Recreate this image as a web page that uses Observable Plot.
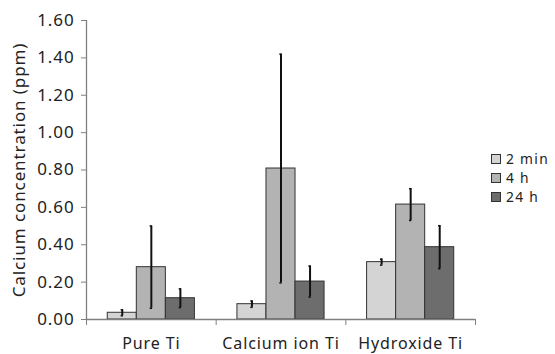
<!DOCTYPE html>
<html><head><meta charset="utf-8">
<script src="https://cdn.jsdelivr.net/npm/d3@7"></script>
<script src="https://cdn.jsdelivr.net/npm/@observablehq/plot@0.6"></script>
<style>
body{margin:0;background:#fff;font-family:"Noto Sans",sans-serif;}
#wrap{position:relative;width:555px;height:354px;}
#legend{position:absolute;left:491px;top:149px;font-size:13.8px;letter-spacing:1.3px;color:#222;line-height:19px;}
#legend div{display:flex;align-items:center;white-space:nowrap;height:19px;}
#legend span.sw{display:inline-block;width:8px;height:8px;border:1px solid #333;margin-right:5px;}
svg text{letter-spacing:0.9px;}
</style></head>
<body><div id="wrap"><div id="legend"></div></div>
<script>
const categories = ["Pure Ti", "Calcium ion Ti", "Hydroxide Ti"];
const seriesNames = ["2 min", "4 h", "24 h"];
const seriesColors = ["#d4d4d4", "#b3b3b3", "#6d6d6d"];
const val2min = [0.036, 0.082, 0.307];
const val4h   = [0.280, 0.808, 0.615];
const val24h  = [0.114, 0.203, 0.387];
const err2min = [0.016, 0.017, 0.016];
const err4h   = [0.220, 0.612, 0.085];
const err24h  = [0.050, 0.083, 0.115];
const yTicks = [0, 0.2, 0.4, 0.6, 0.8, 1.0, 1.2, 1.4, 1.6];

const vals = [val2min, val4h, val24h];
const errs = [err2min, err4h, err24h];
const groupStart = 0.164, barW = 0.224, capHalf = 0.009;
const rows = [];
categories.forEach((c, ci) => {
  seriesNames.forEach((s, si) => {
    const x1 = ci + groupStart + si * barW;
    rows.push({cat: c, series: s, x1, x2: x1 + barW, xm: x1 + barW / 2,
      v: vals[si][ci], lo: vals[si][ci] - errs[si][ci], hi: vals[si][ci] + errs[si][ci]});
  });
});

const chart = Plot.plot({
  width: 555, height: 354,
  marginLeft: 86, marginRight: 80, marginTop: 20, marginBottom: 35,
  style: {fontFamily: '"Noto Sans", sans-serif', fontSize: "16px", color: "#222", background: "transparent"},
  x: {type: "linear", domain: [0, 3]},
  y: {domain: [0, 1.6]},
  color: {domain: seriesNames, range: seriesColors},
  marks: [
    Plot.rectY(rows, {x1: "x1", x2: "x2", y1: 0, y2: "v", fill: "series", stroke: "#333", strokeWidth: 1, inset: 0}),
    Plot.ruleX(rows, {x: "xm", y1: "lo", y2: "hi", stroke: "#111", strokeWidth: 2}),
    Plot.ruleY(rows, {x1: d => d.xm - capHalf, x2: d => d.xm + capHalf, y: "lo", stroke: "#111", strokeWidth: 1.5}),
    Plot.ruleY(rows, {x1: d => d.xm - capHalf, x2: d => d.xm + capHalf, y: "hi", stroke: "#111", strokeWidth: 1.5}),
    Plot.ruleY([0], {stroke: "#808080", strokeWidth: 1.3}),
    Plot.ruleX([0], {y1: 0, y2: 1.6, stroke: "#808080", strokeWidth: 1.3}),
    Plot.axisY({ticks: yTicks, tickFormat: d => d.toFixed(2), tickSize: 5, tickPadding: 7, stroke: "#808080", fontSize: 17,
      label: "Calcium concentration (ppm)", labelAnchor: "center", labelArrow: false, labelOffset: 74}),
    Plot.axisX({ticks: [0, 1, 2, 3], tickFormat: () => "", tickSize: 6, stroke: "#808080", label: null}),
    Plot.axisX({ticks: [0.5, 1.5, 2.5], tickFormat: d => categories[Math.floor(d)], tickSize: 0, tickPadding: 18, label: null})
  ]
});
document.getElementById("wrap").prepend(chart);
chart.style.position = "absolute"; chart.style.left = "0"; chart.style.top = "0";
const lg = document.getElementById("legend");
seriesNames.forEach((s, i) => {
  const d = document.createElement("div");
  d.innerHTML = `<span class="sw" style="background:${seriesColors[i]}"></span>${s}`;
  lg.appendChild(d);
});
</script></body></html>
